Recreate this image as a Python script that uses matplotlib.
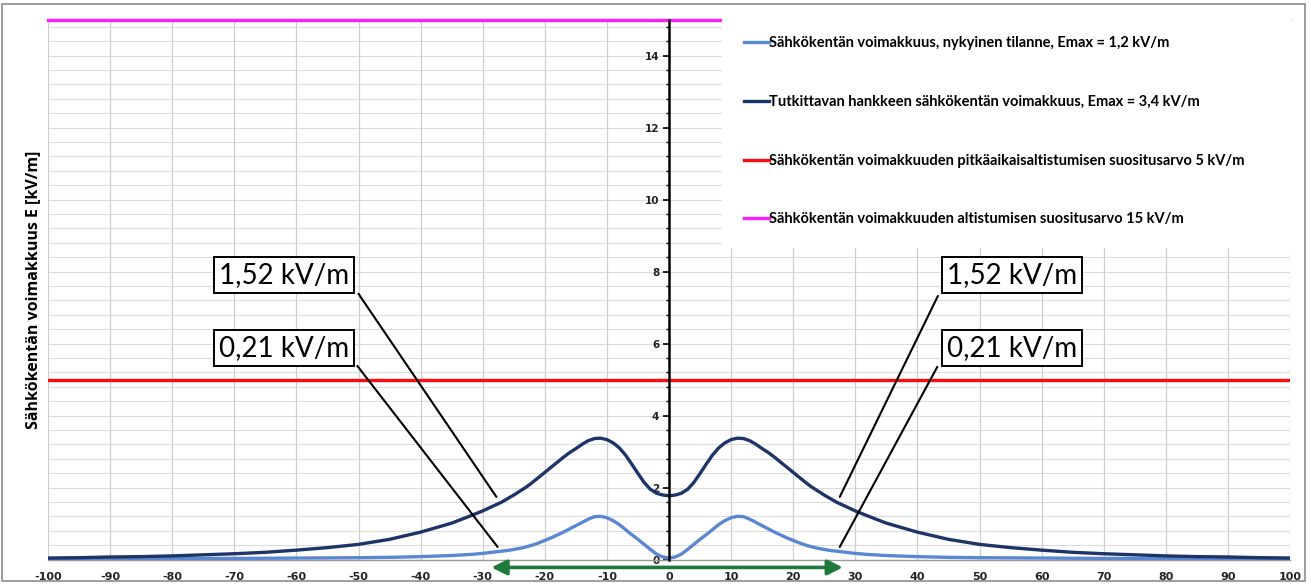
import matplotlib
matplotlib.use("Agg")
import matplotlib.pyplot as plt
from matplotlib.patches import Rectangle
import numpy as np

# ---- data ----
x_pos = [0, 1, 2, 3, 4, 5, 6, 7, 8, 9, 10, 11, 12, 13, 14, 15, 16, 17, 18, 19, 20,
         21, 22, 23, 24, 25, 26, 27, 28, 29, 30, 32, 35, 40, 45, 50, 55, 60, 65, 70,
         75, 80, 85, 90, 95, 100]
e_new = [1.77, 1.79, 1.84, 1.95, 2.14, 2.39, 2.65, 2.90, 3.10, 3.24, 3.33, 3.37, 3.36,
         3.30, 3.20, 3.08, 2.97, 2.84, 2.70, 2.56, 2.42, 2.28, 2.14, 2.01, 1.90, 1.79,
         1.69, 1.59, 1.51, 1.43, 1.35, 1.21, 1.01, 0.76, 0.56, 0.42, 0.33, 0.26, 0.20,
         0.16, 0.13, 0.10, 0.08, 0.07, 0.05, 0.04]
e_now = [0.04, 0.07, 0.15, 0.28, 0.42, 0.56, 0.69, 0.83, 0.97, 1.08, 1.16, 1.20, 1.19,
         1.12, 1.03, 0.94, 0.85, 0.76, 0.68, 0.60, 0.53, 0.46, 0.40, 0.35, 0.31, 0.28,
         0.25, 0.23, 0.21, 0.19, 0.17, 0.14, 0.11, 0.08, 0.06, 0.05, 0.045, 0.04, 0.035,
         0.03, 0.03, 0.03, 0.03, 0.03, 0.03, 0.03]
# full profile from -100 to 100 (symmetric line geometry)
x_full = [-v for v in x_pos[::-1]] + x_pos[1:]
new_full = e_new[::-1] + e_new[1:]
now_full = e_now[::-1] + e_now[1:]

limit_long = 5
limit_short = 15

labels = ["Sähkökentän voimakkuus, nykyinen tilanne, Emax = 1,2 kV/m",
          "Tutkittavan hankkeen sähkökentän voimakkuus, Emax = 3,4 kV/m",
          "Sähkökentän voimakkuuden pitkäaikaisaltistumisen suositusarvo 5 kV/m",
          "Sähkökentän voimakkuuden altistumisen suositusarvo 15 kV/m"]
ann_text = ["1,52 kV/m", "0,21 kV/m"]
x_ticks = list(range(-100, 101, 10))
y_ticks = list(range(0, 15, 2))

# ---- figure ----
W, H = 1311, 584
fig = plt.figure(figsize=(W / 100, H / 100), dpi=100)
fig.patch.set_facecolor("white")
fig.patches.append(Rectangle((2 / W, 3 / H), 1303 / W, 577 / H, transform=fig.transFigure,
                             fill=False, edgecolor="#8c8c8c", linewidth=1.2))

ax_w_px, ax_h_px = 1290 - 48, 559.5 - 19.5
ax = fig.add_axes([48 / W, 1 - 559.5 / H, ax_w_px / W, ax_h_px / H])
ax.set_xlim(-100, 100)
ax.set_ylim(0, 15)

# grid
for yv in np.arange(0, 15.01, 0.4):
    ax.axhline(yv, color="#dcdcdc", linewidth=0.8, zorder=0)
for xv in x_ticks:
    ax.axvline(xv, color="#cfcfcf", linewidth=0.9, zorder=0)

l1, = ax.plot(x_full, now_full, color="#5b87d2", linewidth=2.4, zorder=3,
              solid_joinstyle="round")
l2, = ax.plot(x_full, new_full, color="#1c3467", linewidth=2.4, zorder=3,
              solid_joinstyle="round")
l3 = ax.axhline(limit_long, color="#ff0a0a", linewidth=2.4, zorder=2)
l4 = ax.axhline(limit_short, color="#ff1aff", linewidth=2.4, zorder=2, clip_on=False)

# spines
for s in ["top", "right"]:
    ax.spines[s].set_visible(False)
ax.spines["left"].set_position(("data", 0))
ax.spines["left"].set_linewidth(1.8)
ax.spines["left"].set_zorder(4)
ax.spines["bottom"].set_color("#9a9a9a")
ax.spines["bottom"].set_linewidth(1.0)

ax.set_yticks(y_ticks)
ax.set_yticks(np.arange(0, 15.01, 0.4), minor=True)
ax.tick_params(axis="y", which="major", direction="out", length=4, width=1.2, pad=3,
               labelsize=7.5)
ax.tick_params(axis="y", which="minor", direction="out", length=2.5, width=1.0)
for t in ax.get_yticklabels():
    t.set_fontweight("bold")
    t.set_color("#222222")

ax.set_xticks(x_ticks)
ax.set_xticklabels([str(v) for v in x_ticks], fontweight="bold", fontsize=8, color="#222222")
ax.tick_params(axis="x", length=0, pad=9)

fig.text(33 / W, 1 - 289.5 / H, "Sähkökentän voimakkuus E [kV/m]", rotation=90,
         ha="center", va="center", fontsize=11.5, fontweight="bold", family="Open Sans")

# legend (opaque box reaching the right edge, hiding the top line behind it)
leg_x0 = (722 - 48) / ax_w_px
leg_w = (1292 - 722) / ax_w_px
leg = ax.legend([l1, l2, l3, l4], labels, loc="upper left", mode="expand",
                bbox_to_anchor=(leg_x0, 1.0 + 5 / ax_h_px, leg_w, 0.0), frameon=True,
                framealpha=1.0, facecolor="white", edgecolor="none", fancybox=False,
                handlelength=1.7, handletextpad=0.0, labelspacing=3.06, borderpad=1.5,
                borderaxespad=0.0,
                prop={"family": "Lato", "weight": "bold", "size": 10.5})
leg.set_zorder(5)
for h in leg.get_lines():
    h.set_linewidth(2.4)

# annotation boxes
box = dict(boxstyle="square,pad=0.18", facecolor="white", edgecolor="black", linewidth=1.4)
txt_kw = dict(ha="center", va="center", fontsize=20, family="Lato", bbox=box, zorder=6)
ax.text(-62, 7.89, ann_text[0], **txt_kw)
ax.text(-62, 5.88, ann_text[1], **txt_kw)
ax.text(55.3, 7.89, ann_text[0], **txt_kw)
ax.text(55.3, 5.88, ann_text[1], **txt_kw)

lk = dict(arrowprops=dict(arrowstyle="-", color="black", linewidth=1.5, shrinkA=0, shrinkB=0))
ax.annotate("", xy=(-27.8, 1.74), xytext=(-50.0, 7.38), **lk)
ax.annotate("", xy=(-27.6, 0.35), xytext=(-50.2, 5.38), **lk)
ax.annotate("", xy=(27.5, 1.74), xytext=(43.3, 7.32), **lk)
ax.annotate("", xy=(27.5, 0.35), xytext=(43.2, 5.35), **lk)

# green double arrow below axis
ax.annotate("", xy=(28.0, -0.22), xytext=(-28.6, -0.22), annotation_clip=False,
            arrowprops=dict(arrowstyle="<|-|>,head_length=0.9,head_width=0.45",
                            color="#1e7a3c", linewidth=2.6, shrinkA=0, shrinkB=0))

fig.savefig("out.png", dpi=100)
